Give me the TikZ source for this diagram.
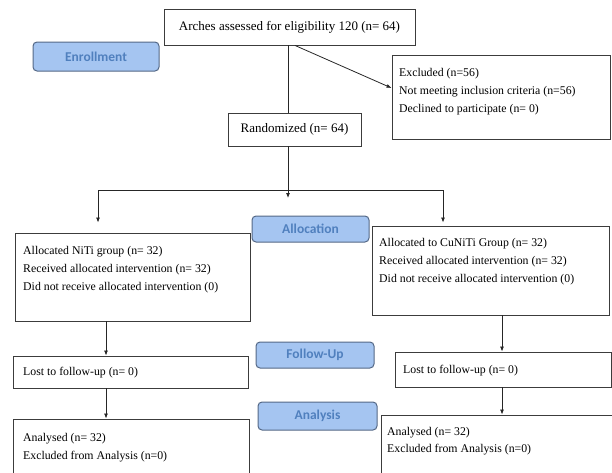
\documentclass[tikz,border=0pt]{standalone}
\usepackage{fontspec}
\setmainfont{Liberation Serif}
\newfontfamily\lblfont{Carlito}
\usetikzlibrary{arrows.meta,calc}
\definecolor{lblfill}{RGB}{165,197,241}
\definecolor{lbldraw}{RGB}{84,104,134}
\definecolor{lbltext}{RGB}{80,128,190}
\definecolor{boxdraw}{RGB}{60,60,60}
\begin{document}
\begin{tikzpicture}[x=1pt,y=-1pt,
 box/.style={draw=boxdraw, line width=0.9pt, fill=white, rectangle, inner sep=0pt},
 lbl/.style={draw=lbldraw, line width=1pt, fill=lblfill, rounded corners=4pt, inner sep=0pt,
   font=\lblfont\bfseries\fontsize{13.5}{16}\selectfont, text=lbltext},
 txt/.style={inner sep=0pt, anchor=north west, align=left, font=\fontsize{11.8}{18}\selectfont},
 conn/.style={draw=black!85, line width=0.8pt},
 arr/.style={conn, -{Latex[length=5pt,width=4pt]}}]
\useasboundingbox (0,0) rectangle (612,472);
\clip (0,0) rectangle (612,472);

% main boxes
\node[box, minimum width=251pt, minimum height=36pt, font=\fontsize{13}{16}\selectfont] (top) at (289.5,27) {Arches assessed for eligibility 120 (n= 64)};
\node[box, minimum width=218.5pt, minimum height=84pt] (excl) at (501.25,97) {};
\node[box, minimum width=133pt, minimum height=33pt, font=\fontsize{13}{16}\selectfont] (rand) at (294.5,129.5) {Randomized (n= 64)};
\node[box, minimum width=235pt, minimum height=88pt] (niti) at (132.5,277) {};
\node[box, minimum width=237pt, minimum height=89pt] (cuniti) at (490.5,270.5) {};
\node[box, minimum width=235pt, minimum height=32pt] (lostL) at (130.5,372) {};
\node[box, minimum width=216pt, minimum height=35pt] (lostR) at (503,369.5) {};
\node[box, minimum width=236pt, minimum height=70pt] (anaL) at (131,454) {};
\node[box, minimum width=236pt, minimum height=70pt] (anaR) at (499,450) {};

% stage labels
\node[lbl, minimum width=126pt, minimum height=29pt] (enroll) at (96,56.5) {Enrollment};
\node[lbl, minimum width=117pt, minimum height=26pt] (alloc) at (310.5,229) {Allocation};
\node[lbl, minimum width=118pt, minimum height=26pt] (follow) at (315,355) {Follow-Up};
\node[lbl, minimum width=119pt, minimum height=28pt] (analysis) at (317.5,416) {Analysis};

% box texts
\node[txt] (exclt) at (399,68) {Excluded (n=56)\\Not meeting inclusion criteria (n=56)\\Declined to participate (n= 0)};
\node[txt] (nitit) at (23,246.5) {Allocated NiTi group (n= 32)\\Received allocated intervention (n= 32)\\Did not receive allocated intervention (0)};
\node[txt] (cunitit) at (379,238.5) {Allocated to CuNiTi Group (n= 32)\\Received allocated intervention (n= 32)\\Did not receive allocated intervention (0)};
\node[txt, anchor=west] (lostLt) at (23,373) {Lost to follow-up (n= 0)};
\node[txt, anchor=west] (lostRt) at (403,371) {Lost to follow-up (n= 0)};
\node[txt] (anaLt) at (23,433.5) {Analysed (n= 32)\\Excluded from Analysis (n=0)};
\node[txt, font=\fontsize{11.8}{16.5}\selectfont] (anaRt) at (387,427.5) {Analysed (n= 32)\\Excluded from Analysis (n=0)};

% connectors
\coordinate (xs) at (288,0);
\coordinate (mid) at (288,198);
\coordinate (hl) at (98,190);
\coordinate (hr) at (443,190);
\coordinate (xL) at (106,0);
\coordinate (xR) at (502,0);

\draw[arr] ([xshift=5.5pt]top.south) -- ([yshift=9pt]excl.west);
\draw[conn] (top.south -| xs) -- (rand.north -| xs);
\draw[arr] (rand.south -| xs) -- (mid);
\draw[conn] (hl) -- (hr);
\draw[arr, shorten >=10pt] (hl) -- (hl |- niti.north);
\draw[arr, shorten >=3pt] (hr) -- (hr |- cuniti.north);
\draw[arr] (niti.south -| xL) -- (lostL.north -| xL);
\draw[arr] (lostL.south -| xL) -- (anaL.north -| xL);
\draw[arr] (cuniti.south -| xR) -- (lostR.north -| xR);
\draw[arr] (lostR.south -| xR) -- (anaR.north -| xR);
\end{tikzpicture}
\end{document}
